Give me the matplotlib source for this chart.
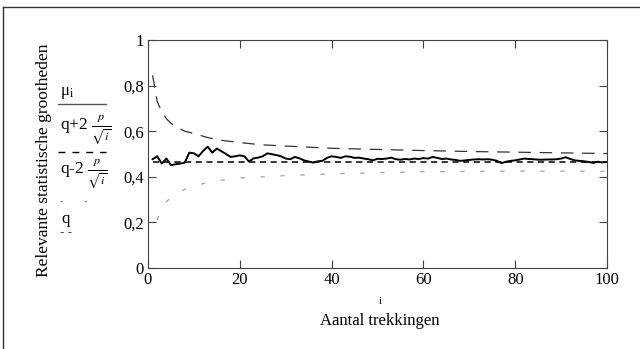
import matplotlib
matplotlib.use("Agg")
import matplotlib.pyplot as plt
from matplotlib.lines import Line2D
import numpy as np

plt.rcParams['font.family'] = ['Liberation Serif', 'DejaVu Serif']
plt.rcParams['mathtext.fontset'] = 'stix'

# ---- data ----
draws = list(range(1, 101))
mean_values = [0.477, 0.490, 0.458, 0.480, 0.451, 0.455, 0.458, 0.462, 0.506, 0.503,
               0.490, 0.513, 0.532, 0.506, 0.524, 0.512, 0.500, 0.487, 0.490, 0.494,
               0.490, 0.467, 0.481, 0.484, 0.490, 0.503, 0.499, 0.495, 0.490, 0.480,
               0.477, 0.487, 0.481, 0.472, 0.467, 0.462, 0.468, 0.470, 0.483, 0.490,
               0.487, 0.483, 0.490, 0.488, 0.483, 0.484, 0.480, 0.477, 0.472, 0.479,
               0.478, 0.480, 0.484, 0.477, 0.475, 0.478, 0.476, 0.480, 0.478, 0.482,
               0.480, 0.487, 0.483, 0.478, 0.480, 0.476, 0.474, 0.470, 0.472, 0.474,
               0.476, 0.477, 0.476, 0.477, 0.475, 0.470, 0.460, 0.466, 0.470, 0.472,
               0.476, 0.480, 0.478, 0.477, 0.475, 0.475, 0.476, 0.476, 0.477, 0.480,
               0.486, 0.478, 0.472, 0.470, 0.468, 0.465, 0.461, 0.466, 0.463, 0.465]

upper_i = [1, 2, 3, 4, 5, 6, 8, 10, 13, 16, 20, 25, 30, 40, 50, 60, 70, 80, 90, 100]
upper_values = [0.845, 0.73, 0.685, 0.655, 0.635, 0.62, 0.60, 0.59, 0.572, 0.56, 0.55,
                0.54, 0.535, 0.525, 0.52, 0.515, 0.511, 0.508, 0.505, 0.502]

lower_i = [2, 3, 4, 5, 6, 8, 10, 13, 16, 20, 25, 30, 40, 50, 60, 70, 80, 90, 100]
lower_values = [0.21, 0.262, 0.29, 0.31, 0.325, 0.345, 0.36, 0.375, 0.385, 0.395, 0.40,
                0.405, 0.413, 0.418, 0.422, 0.424, 0.425, 0.425, 0.424]

q_value = 0.465

x_ticks = [0, 20, 40, 60, 80, 100]
y_ticks = [0, 0.2, 0.4, 0.6, 0.8, 1.0]
y_tick_labels = ["0", "0,2", "0,4", "0,6", "0,8", "1"]

W, H = 640, 349
fig = plt.figure(figsize=(6.4, 3.49), dpi=100)
ax = fig.add_axes([148 / W, 1 - 268 / H, (607 - 148) / W, (268 - 40) / H])

ax.plot(draws, mean_values, color='black', lw=1.4, zorder=4)
ax.plot(upper_i, upper_values, color='#333333', lw=0.9, dashes=(10, 7), zorder=3)
ax.plot(lower_i, lower_values, color='#999999', lw=0.8, dashes=(4, 14), zorder=3)
ax.plot([draws[0], draws[-1]], [q_value, q_value], color='black', lw=1.1, dashes=(4, 3), zorder=3)

ax.set_xlim(0, 100)
ax.set_ylim(0, 1)
ax.set_xticks(x_ticks)
ax.set_xticklabels([str(t) for t in x_ticks])
ax.set_yticks(y_ticks)
ax.set_yticklabels(y_tick_labels)
ax.tick_params(direction='in', top=True, right=True, length=6, width=0.8,
               color='#444444', labelsize=12, pad=3)
for s in ax.spines.values():
    s.set_color('#444444')
    s.set_linewidth(0.8)

# x-axis label
fig.text(380 / W, 1 - 302 / H, "i", ha='center', va='center', fontsize=8)
fig.text(380 / W, 1 - 321 / H, "Aantal trekkingen", ha='center', va='center', fontsize=12)

# y-axis label
fig.text(44 / W, 1 - 160 / H, "Relevante statistische grootheden", rotation=90,
         ha='center', va='center', fontsize=12.5)

# legend on the left
def fy(y):
    return 1 - y / H

fig.text(60 / W, fy(93), r"μ$_\mathrm{i}$", ha='left', va='center', fontsize=12)
fig.add_artist(Line2D([58 / W, 106 / W], [fy(104), fy(104)], color='#555555', lw=1.0))

fig.text(60 / W, fy(130), r"q+2 $\frac{p}{\sqrt{i}}$", ha='left', va='center', fontsize=12.5)
fig.add_artist(Line2D([58 / W, 106 / W], [fy(152), fy(152)], color='black', lw=1.0,
                      dashes=(5, 5)))

fig.text(60 / W, fy(174), r"q-2 $\frac{p}{\sqrt{i}}$", ha='left', va='center', fontsize=12.5)
fig.add_artist(Line2D([60 / W, 94 / W], [fy(201), fy(201)], color='#888888', lw=0.8,
                      dashes=(2, 20)))

fig.text(61 / W, fy(219), "q", ha='left', va='center', fontsize=12)
fig.add_artist(Line2D([60 / W, 74 / W], [fy(232), fy(232)], color='#555555', lw=0.8,
                      dashes=(3, 4)))

# outer frame (top and left)
fig.add_artist(Line2D([3 / W, 1.0], [fy(7), fy(7)], color='#333333', lw=1.0))
fig.add_artist(Line2D([3 / W, 3 / W], [fy(7), 0.0], color='#333333', lw=1.0))

fig.savefig("out.png", dpi=100)
